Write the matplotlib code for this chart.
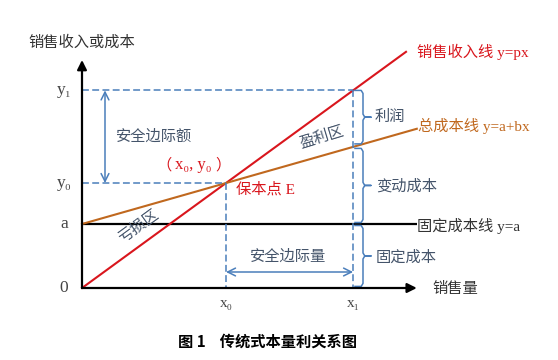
import matplotlib
matplotlib.use("Agg")
import matplotlib.pyplot as plt
import numpy as np

# ---------------- data (conceptual CVP diagram) ----------------
p = 0.82            # unit price -> revenue y = p*x
a = 2.0             # fixed cost
b = 0.32            # unit variable cost -> total cost y = a + b*x
x0 = 4.0            # break-even volume
x1 = 7.53           # actual volume
revenue_x = [0.0, 9.0]
cost_x = [0.0, 9.3]
axis_x_max = 9.3
axis_y_max = 7.125
y0 = p * x0
y1 = p * x1
cost_x1 = a + b * x1

y_tick_labels = ["y\u2081", "y\u2080", "a", "0"]
x_tick_labels = ["x\u2080", "x\u2081"]

# ---------------- styling ----------------
RED = "#d9161d"
BROWN = "#c0681e"
BLUE = "#4a7ebb"
SLATE = "#44546a"
DARK = "#333333"
CJK = ["Noto Sans CJK SC", "DejaVu Sans"]
MIX = ["Liberation Serif", "DejaVu Serif", "Noto Sans CJK SC"]

fig = plt.figure(figsize=(5.58, 3.6), dpi=100)
ax = fig.add_axes([0, 0, 1, 1])
ux, uy = 36.0, 32.0          # pixels per data unit
ox, oy = 82.0, 288.0         # origin in pixels
ax.set_xlim(-ox / ux, (558 - ox) / ux)
ax.set_ylim(-(360 - oy) / uy, oy / uy)
ax.axis("off")

def P(px, py):
    return ((px - ox) / ux, (oy - py) / uy)

# axes with arrows
ax.annotate("", xy=(axis_x_max, 0), xytext=(0, 0),
            arrowprops=dict(arrowstyle="-|>", lw=1.6, color="black",
                            mutation_scale=14, shrinkA=0, shrinkB=0))
ax.annotate("", xy=(0, axis_y_max), xytext=(0, 0),
            arrowprops=dict(arrowstyle="-|>", lw=1.6, color="black",
                            mutation_scale=14, shrinkA=0, shrinkB=0))

# fixed cost line
ax.plot([0, axis_x_max], [a, a], color="black", lw=1.6, solid_capstyle="butt")
# revenue & total cost lines
rx = np.array(revenue_x)
ax.plot(rx, p * rx, color=RED, lw=1.5)
cx = np.array(cost_x)
ax.plot(cx, a + b * cx, color=BROWN, lw=1.5)

# dashed guide lines
dash = dict(color=BLUE, lw=1.1, dashes=(4.5, 2.2))
ax.plot([0, x1], [y1, y1], **dash)
ax.plot([x1, x1], [y1, 0], **dash)
ax.plot([0, x0], [y0, y0], **dash)
ax.plot([x0, x0], [y0, 0], **dash)

# double arrows
ax.annotate("", xy=(P(105, 0)[0], y1), xytext=(P(105, 0)[0], y0),
            arrowprops=dict(arrowstyle="<->", lw=1.1, color=BLUE,
                            mutation_scale=14, shrinkA=0, shrinkB=0))
ya = P(0, 272)[1]
ax.annotate("", xy=(x1, ya), xytext=(x0, ya),
            arrowprops=dict(arrowstyle="<->", lw=1.1, color=BLUE,
                            mutation_scale=14, shrinkA=0, shrinkB=0))

# braces
xb = P(363, 0)[0]
xh = P(355, 0)[0]
xt = P(371, 0)[0]
gap = 1.5 / uy
r = 3 / uy
def brace(top, bot):
    mid = (top + bot) / 2
    xs = [xh, xb - 0.05, xb, xb, xb + 0.05, xt, xb + 0.05, xb, xb, xb - 0.05, xh]
    ys = [top, top, top - r, mid + r, mid, mid, mid, mid - r, bot + r, bot, bot]
    ax.plot(xs, ys, color=BLUE, lw=1.1, solid_joinstyle="round")

brace(y1, cost_x1 + gap * 2)
brace(cost_x1 - gap, a + gap)
brace(a - gap, 0.05)

# texts
fs = 11
ax.text(*P(28, 42), "销售收入或成本", fontsize=fs, family=CJK, color=DARK, va="center", ha="left")
ax.text(*P(432, 289), "销售量", fontsize=fs, family=CJK, color=DARK, va="center", ha="left")

for lab, yv in zip(y_tick_labels, [y1, y0, a, 0]):
    ax.text(P(64, 0)[0], yv, lab, fontsize=12.5, family=MIX, color="#444444",
            va="center", ha="center")
for lab, xv in zip(x_tick_labels, [x0, x1]):
    ax.text(xv, P(0, 303)[1], lab, fontsize=11, family=MIX, color="#444444",
            va="center", ha="center")

ax.text(*P(417, 52), "销售收入线 y=px", fontsize=fs, family=MIX, color=RED, va="center", ha="left")
ax.text(*P(418, 126), "总成本线 y=a+bx", fontsize=fs, family=MIX, color=BROWN, va="center", ha="left")
ax.text(*P(417, 226), "固定成本线 y=a", fontsize=fs, family=MIX, color=DARK, va="center", ha="left")

ax.text(*P(375, 116), "利润", fontsize=fs, family=CJK, color=SLATE, va="center", ha="left")
ax.text(*P(376, 186), "变动成本", fontsize=fs, family=CJK, color=SLATE, va="center", ha="left")
ax.text(*P(376, 257), "固定成本", fontsize=fs, family=CJK, color=SLATE, va="center", ha="left")

ax.text(*P(154, 136), "安全边际额", fontsize=fs, family=CJK, color=SLATE, va="center", ha="center")
ax.text(*P(288, 256), "安全边际量", fontsize=fs, family=CJK, color=SLATE, va="center", ha="center")
ax.text(*P(322, 137), "盈利区", fontsize=fs, family=CJK, color=SLATE, va="center", ha="center", rotation=17)
ax.text(*P(138, 226), "亏损区", fontsize=fs, family=CJK, color=SLATE, va="center", ha="center", rotation=36)

# break-even coordinates label (full-width brackets from the CJK font)
ax.text(*P(164, 165), "（", fontsize=fs, family=CJK, color=RED, va="center", ha="center")
ax.text(*P(193, 165), "x\u2080, y\u2080", fontsize=12, family=MIX, color=RED, va="center", ha="center")
ax.text(*P(223, 165), "）", fontsize=fs, family=CJK, color=RED, va="center", ha="center")
ax.text(*P(236, 189), "保本点 E", fontsize=fs, family=MIX, color=RED, va="center", ha="left")

ax.text(*P(178, 342), "图 1    传统式本量利关系图", fontsize=11, family=CJK, color="black",
        fontweight="bold", va="center", ha="left")

fig.savefig("out.png", dpi=100, facecolor="white")
